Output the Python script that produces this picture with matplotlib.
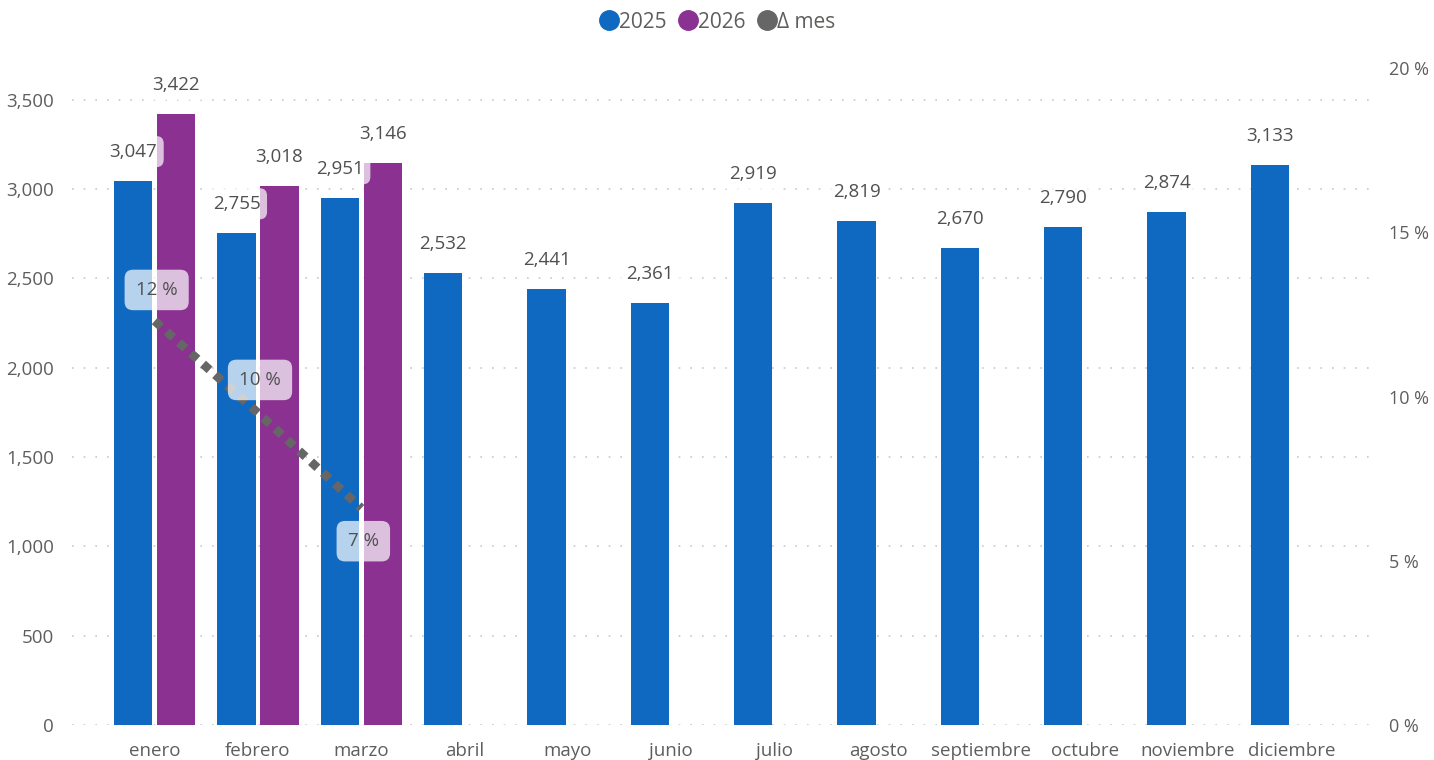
import matplotlib
matplotlib.use("Agg")
import matplotlib.pyplot as plt
import numpy as np
from matplotlib.ticker import FuncFormatter, MultipleLocator
from matplotlib.lines import Line2D

months = ["enero", "febrero", "marzo", "abril", "mayo", "junio", "julio",
          "agosto", "septiembre", "octubre", "noviembre", "diciembre"]
v2025 = [3047, 2755, 2951, 2532, 2441, 2361, 2919, 2819, 2670, 2790, 2874, 3133]
v2026 = [3422, 3018, 3146]
delta_pct = [12.3, 9.5, 6.6]
delta_labels = ["12 %", "10 %", "7 %"]

C25 = "#1069C1"
C26 = "#8A3191"
CLINE = "#666666"
TXT = "#605E5C"
LBL = "#505050"

plt.rcParams['font.family'] = ['Open Sans', 'DejaVu Sans']

fig = plt.figure(figsize=(14.34, 7.6), dpi=100)
ax = fig.add_axes([72/1434, 1-725/760, (1375-72)/1434, (725-55)/760])
ax2 = ax.twinx()

x = np.arange(len(months))
w = 0.37
off = 0.207
ax.bar(x - off, v2025, width=w, color=C25, zorder=2)
x26 = x[:len(v2026)]
ax.bar(x26 + off, v2026, width=w, color=C26, zorder=2)

ax.set_xlim(-0.80, 11.81)
ax.set_ylim(0, 3750)
ax.yaxis.set_major_locator(MultipleLocator(500))
ax.yaxis.set_major_formatter(FuncFormatter(lambda v, p: f"{int(v):,}"))
ax.grid(axis='y', color="#C8C8C8", linestyle=(0, (1, 6)), linewidth=1.2, zorder=0)
ax.set_axisbelow(True)
for s in ax.spines.values():
    s.set_visible(False)
for s in ax2.spines.values():
    s.set_visible(False)
ax.tick_params(axis='both', length=0, colors=TXT, labelsize=13.5)
ax.tick_params(axis='y', pad=13)
ax.tick_params(axis='x', pad=12)
ax.set_xticks(x)
ax.set_xticklabels(months)

# right axis: 20 % at pixel y=68, bottom at 725, axes top at 55
ax2.set_ylim(0, 20 * 670 / 657)
ax2.yaxis.set_major_locator(MultipleLocator(5))
ax2.yaxis.set_major_formatter(FuncFormatter(lambda v, p: f"{int(v)} %"))
ax2.tick_params(axis='y', length=0, colors=TXT, labelsize=13, pad=10)

ax2.plot(x26, delta_pct, color=CLINE, linewidth=6.3, linestyle=(0, (1, 0.85)),
         dash_capstyle='butt', zorder=3)

box = dict(boxstyle="round,pad=0.35,rounding_size=0.4", fc="white", ec="none", alpha=0.7)
for xi, v in zip(x, v2025):
    ax.annotate(f"{v:,}", (xi - off, v), xytext=(0, 20), textcoords='offset pixels',
                ha='center', va='bottom', fontsize=13.5, color=LBL, bbox=box, zorder=5)
for xi, v in zip(x26, v2026):
    ax.annotate(f"{v:,}", (xi + off, v), xytext=(0, 20), textcoords='offset pixels',
                ha='center', va='bottom', fontsize=13.5, color=LBL, bbox=box, zorder=5)

doffs = [31, 33, -33]
for xi, v, t, d in zip(x26, delta_pct, delta_labels, doffs):
    ax2.annotate(t, (xi, v), xytext=(2, d), textcoords='offset pixels',
                 ha='center', va='center', fontsize=13.5, color=LBL,
                 bbox=dict(boxstyle="round,pad=0.6,rounding_size=0.45", fc="white", ec="none", alpha=0.7),
                 zorder=6)

handles = [Line2D([], [], marker='o', linestyle='none', markersize=14, color=c)
           for c in (C25, C26, CLINE)]
fig.legend(handles, ["2025", "2026", "Δ mes"], loc='center', bbox_to_anchor=(0.5, 1 - 22/760),
           ncol=3, frameon=False, fontsize=15, handletextpad=0.0, columnspacing=0.5,
           labelcolor=TXT, handlelength=1.0)

fig.savefig("out.png", dpi=100)
